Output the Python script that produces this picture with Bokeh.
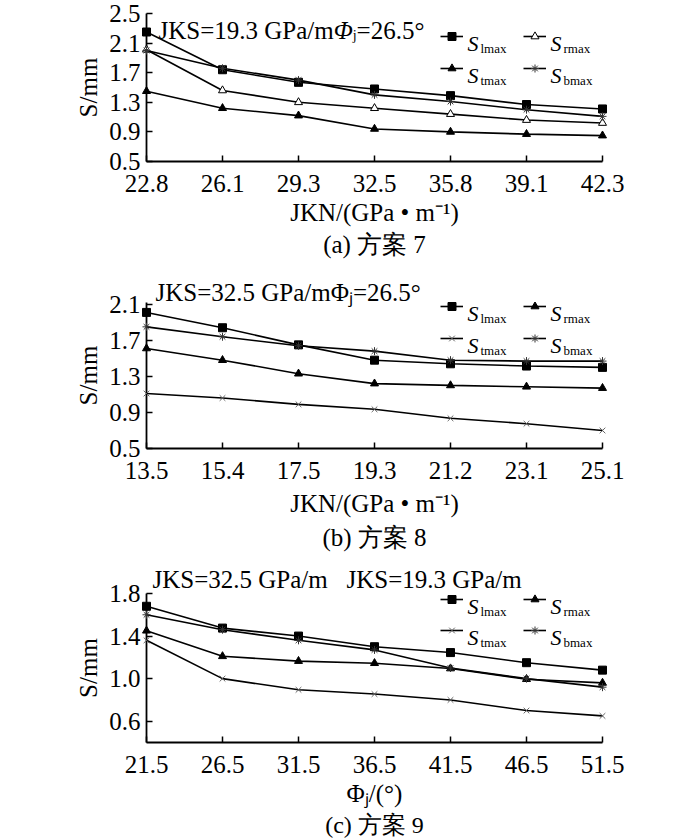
from bokeh.plotting import figure
from bokeh.models import Label, Legend, LegendItem, FixedTicker, Range1d, PrintfTickFormatter, Title
from bokeh.layouts import column
from bokeh.embed import file_html
from bokeh.resources import INLINE

# ---------------- data ----------------
x7 = ["22.8", "26.1", "29.3", "32.5", "35.8", "39.1", "42.3"]
s7_l = [2.25, 1.74, 1.57, 1.48, 1.39, 1.27, 1.21]
s7_r = [2.01, 1.46, 1.30, 1.22, 1.14, 1.06, 1.02]
s7_t = [1.45, 1.22, 1.12, 0.94, 0.90, 0.87, 0.85]
s7_b = [2.00, 1.76, 1.60, 1.40, 1.31, 1.20, 1.11]

x8 = ["13.5", "15.4", "17.5", "19.3", "21.2", "23.1", "25.1"]
s8_l = [2.01, 1.84, 1.65, 1.48, 1.44, 1.415, 1.40]
s8_r = [1.61, 1.48, 1.33, 1.22, 1.20, 1.185, 1.17]
s8_t = [1.11, 1.06, 0.99, 0.935, 0.835, 0.775, 0.70]
s8_b = [1.85, 1.74, 1.64, 1.58, 1.48, 1.47, 1.47]

x9 = ["21.5", "26.5", "31.5", "36.5", "41.5", "46.5", "51.5"]
s9_l = [1.68, 1.475, 1.40, 1.30, 1.245, 1.15, 1.08]
s9_r = [1.45, 1.21, 1.165, 1.145, 1.095, 0.995, 0.96]
s9_t = [1.36, 1.00, 0.895, 0.855, 0.80, 0.70, 0.65]
s9_b = [1.60, 1.46, 1.36, 1.27, 1.10, 1.00, 0.92]

yt7 = [0.5, 0.9, 1.3, 1.7, 2.1, 2.5]
yt8 = [0.5, 0.9, 1.3, 1.7, 2.1]
yt9 = [0.6, 1.0, 1.4, 1.8]

# ---------------- helpers ----------------
SERIF = "Liberation Serif"
W = {' ': 250, '(': 333, ')': 333, '.': 250, '/': 278, '=': 564, '°': 400, '•': 350,
     '-': 333, 'J': 389, 'K': 722, 'N': 722, 'S': 556, 'G': 722, 'P': 556, 'a': 444,
     'm': 778, 'j': 278, 'l': 278, 'x': 500, 't': 278, 'r': 333, 'b': 500, 'c': 444,
     'Φ': 760}


def tw(s, size):
    return sum(W.get(c, 500) for c in s) * size / 1000.0


def runs(p, parts, x0, y):
    pos = x0
    for t, sz, st, dy in parts:
        p.add_layout(Label(x=pos, y=y + dy, x_units="screen", y_units="screen", text=t,
                           text_font=SERIF, text_font_size=f"{sz}px", text_font_style=st,
                           text_baseline="alphabetic", text_align="left",
                           text_color="black"))
        pos += tw(t, sz)


def make_panel(xlabels, series, yr, yticks, height, btop, bbottom, xtitle, lab_sd,
               caption, cap_sd, cap_size):
    p = figure(width=700, height=height, x_range=Range1d(0, 6), y_range=Range1d(*yr),
               output_backend="svg", toolbar_location=None,
               min_border_left=146, min_border_right=98,
               min_border_top=btop, min_border_bottom=bbottom)
    p.grid.visible = False
    p.outline_line_color = None
    p.background_fill_color = "white"
    p.border_fill_color = "white"
    p.xaxis.ticker = FixedTicker(ticks=list(range(len(xlabels))))
    p.xaxis.major_label_overrides = {i: lab for i, lab in enumerate(xlabels)}
    p.yaxis.ticker = FixedTicker(ticks=yticks)
    p.yaxis.formatter = PrintfTickFormatter(format="%.1f")
    for ax in (p.xaxis, p.yaxis):
        ax.axis_line_width = 1.8
        ax.axis_line_color = "black"
        ax.major_tick_in = 6
        ax.major_tick_out = 0
        ax.major_tick_line_width = 1.5
        ax.major_tick_line_color = "black"
        ax.minor_tick_line_color = None
        ax.major_label_text_font = SERIF
        ax.major_label_text_font_size = "25px"
        ax.major_label_text_color = "black"
        ax.axis_label_text_font = SERIF
        ax.axis_label_text_font_size = "25px"
        ax.axis_label_text_font_style = "normal"
        ax.axis_label_text_color = "black"
    p.xaxis.major_label_standoff = 13
    p.yaxis.major_label_standoff = 6
    p.xaxis.axis_label = xtitle
    p.xaxis.axis_label_standoff = lab_sd
    p.yaxis.axis_label = "S/mm"
    p.yaxis.axis_label_standoff = 4
    p.add_layout(Title(text=caption, align="center", text_font=SERIF,
                       text_font_size=f"{cap_size}px", text_font_style="normal",
                       text_color="black", standoff=cap_sd), "below")

    xs = list(range(len(xlabels)))
    rends = []
    for vals, marker, fill, lcol in series:
        lr = p.line(xs, vals, line_color="black", line_width=1.6, level="overlay")
        sr = p.scatter(xs, vals, marker=marker, size=8, fill_color=fill, line_color=lcol,
                       line_width=1, level="overlay")
        rends.append([lr, sr])
    return p, rends


def add_legend(p, rends, rows, subs):
    cols = [294, 377]
    k = 0
    for r in range(2):
        for c in range(2):
            leg = Legend(items=[LegendItem(label=" ", renderers=rends[k])],
                         location=(cols[c], rows[r] - 10), glyph_width=23, glyph_height=20,
                         label_standoff=0, label_width=0, label_height=20, padding=0,
                         margin=0, spacing=0, border_line_color=None,
                         background_fill_alpha=0, label_text_font_size="1px")
            p.add_layout(leg)
            sx = cols[c] + 27
            runs(p, [("S", 22, "italic", 0)], sx, rows[r] - 7)
            runs(p, [(subs[k], 13, "normal", 0)], sx + 13, rows[r] - 12)
            k += 1


def add_top_title(p, text, offset, sd):
    p.add_layout(Title(text=text, align="left", offset=offset, text_font=SERIF,
                       text_font_size="25px", text_font_style="normal",
                       text_color="black", standoff=sd), "above")


XT = "JKN/(GPa • m⁻¹)"

# ---------------- panel (a) ----------------
ser7 = [(s7_l, "square", "black", "black"), (s7_r, "triangle", "white", "black"),
        (s7_t, "triangle", "black", "black"), (s7_b, "asterisk", None, "#333333")]
p1, r1 = make_panel(x7, ser7, (0.5, 2.5), yt7, 261, 13, 100, XT, 4, "(a) 方案 7", 1, 25)
runs(p1, [("JKS=19.3 GPa/m", 25, "normal", 0), ("Φ", 25, "italic", 0),
          ("j", 14, "normal", -5), ("=26.5°", 25, "normal", 0)], 12, 131)
add_legend(p1, r1, [125, 93], ["lmax", "rmax", "tmax", "bmax"])

# ---------------- panel (b) ----------------
ser8 = [(s8_l, "square", "black", "black"), (s8_r, "triangle", "black", "black"),
        (s8_t, "x", None, "#666666"), (s8_b, "asterisk", None, "#333333")]
p2, r2 = make_panel(x8, ser8, (0.5, 2.12), yt8, 293, 41, 106, XT, 8, "(b) 方案 8", 4, 25)
add_top_title(p2, "JKS=32.5 GPa/mΦⱼ=26.5°", 9, -6)
add_legend(p2, r2, [142, 110], ["lmax", "rmax", "tmax", "bmax"])

# ---------------- panel (c) ----------------
ser9 = [(s9_l, "square", "black", "black"), (s9_r, "triangle", "black", "black"),
        (s9_t, "x", None, "#666666"), (s9_b, "asterisk", None, "#333333")]
p3, r3 = make_panel(x9, ser9, (0.4, 1.8), yt9, 284, 39, 96, "Φⱼ/(°)", 4, "(c) 方案 9", 1, 24)
add_top_title(p3, "JKS=32.5 GPa/m\u00a0\u00a0 JKS=19.3 GPa/m", 6, 2)
add_legend(p3, r3, [143.5, 112.5], ["lmax", "rmax", "tmax", "bmax"])

layout = column(p1, p2, p3)
open("out.html", "w").write(file_html(layout, INLINE))
